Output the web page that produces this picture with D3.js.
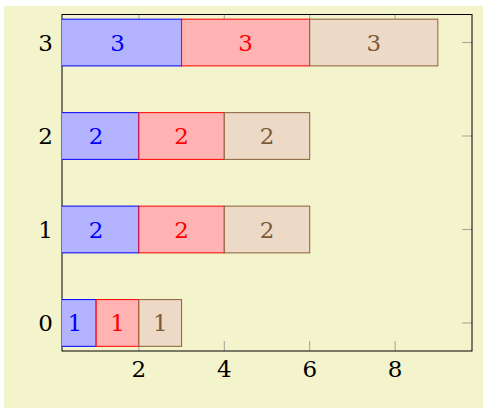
<!DOCTYPE html>
<html>
<head>
<meta charset="utf-8">
<script src="https://cdn.jsdelivr.net/npm/d3@7"></script>
<style>
  body { margin: 0; background: white; }
</style>
</head>
<body>
<div id="chart"></div>
<script>
// data
const categories = [0, 1, 2, 3]
const blueValues = [1, 2, 2, 3]
const redValues = [1, 2, 2, 3]
const brownValues = [1, 2, 2, 3]
const xTicks = [2, 4, 6, 8]
const yTicks = [0, 1, 2, 3]

const series = [
    {values: blueValues, fill: '#b3b3ff', stroke: '#0000ff', text: '#0000ff'},
    {values: redValues, fill: '#ffb3b3', stroke: '#ff0000', text: '#ff0000'},
    {values: brownValues, fill: '#ecd9c6', stroke: '#8a6038', text: '#7d5a38'}
]

const width = 483, height = 408
const box = {left: 62, right: 472, top: 14.5, bottom: 351}
const fontSize = 23
const fontFamily = '"DejaVu Serif", "Liberation Serif", serif'

const svg = d3.select('#chart').append('svg')
    .attr('width', width)
    .attr('height', height)
    .attr('font-family', fontFamily)

svg.append('rect')
    .attr('x', 4).attr('y', 6)
    .attr('width', width - 4).attr('height', height - 6)
    .attr('fill', '#f3f3cc')

const x = d3.scaleLinear().domain([0.2, 9.8]).range([box.left, box.right])
const y = d3.scaleLinear().domain([-0.3, 3.3]).range([box.bottom, box.top])
const barH = y(0) - y(0.5)

svg.append('clipPath').attr('id', 'clip')
    .append('rect')
    .attr('x', box.left).attr('y', box.top)
    .attr('width', box.right - box.left).attr('height', box.bottom - box.top)

// ticks (inside, gray)
const tickLen = 10
const ticks = svg.append('g').attr('stroke', '#a0a0a0').attr('stroke-width', 1)
xTicks.forEach(t => {
    ticks.append('line').attr('x1', x(t)).attr('x2', x(t)).attr('y1', box.bottom).attr('y2', box.bottom - tickLen)
    ticks.append('line').attr('x1', x(t)).attr('x2', x(t)).attr('y1', box.top).attr('y2', box.top + tickLen)
})
yTicks.forEach(t => {
    ticks.append('line').attr('y1', y(t)).attr('y2', y(t)).attr('x1', box.left).attr('x2', box.left + tickLen)
    ticks.append('line').attr('y1', y(t)).attr('y2', y(t)).attr('x1', box.right).attr('x2', box.right - tickLen)
})

// frame
svg.append('rect')
    .attr('x', box.left).attr('y', box.top)
    .attr('width', box.right - box.left).attr('height', box.bottom - box.top)
    .attr('fill', 'none').attr('stroke', 'black').attr('stroke-width', 1)

// stacked bars
const bars = svg.append('g').attr('clip-path', 'url(#clip)')
const labels = svg.append('g')
categories.forEach((c, i) => {
    let start = 0
    series.forEach(s => {
        const v = s.values[i]
        bars.append('rect')
            .attr('x', x(start))
            .attr('y', y(c) - barH / 2)
            .attr('width', x(start + v) - x(start))
            .attr('height', barH)
            .attr('fill', s.fill)
            .attr('stroke', s.stroke)
            .attr('stroke-width', 1)
        labels.append('text')
            .attr('x', x(start + v / 2))
            .attr('y', y(c) + fontSize * 0.36)
            .attr('text-anchor', 'middle')
            .attr('font-size', fontSize)
            .attr('fill', s.text)
            .text(v)
        start += v
    })
})

// tick labels
svg.append('g').selectAll('text')
    .data(xTicks)
    .join('text')
    .attr('x', d => x(d))
    .attr('y', 377)
    .attr('text-anchor', 'middle')
    .attr('font-size', fontSize)
    .text(d => d)

svg.append('g').selectAll('text')
    .data(yTicks)
    .join('text')
    .attr('x', 53)
    .attr('y', d => y(d) + fontSize * 0.36)
    .attr('text-anchor', 'end')
    .attr('font-size', fontSize)
    .text(d => d)
</script>
</body>
</html>
